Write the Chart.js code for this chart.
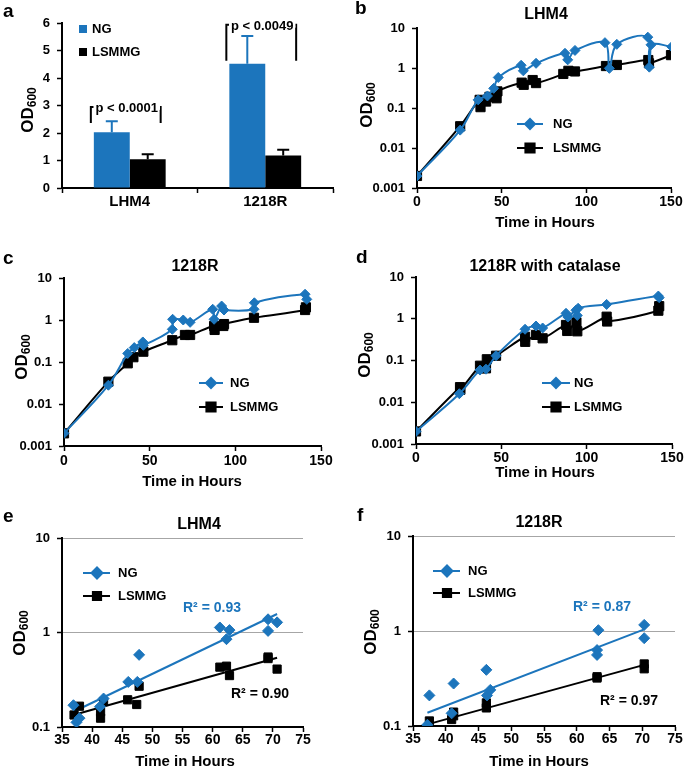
<!DOCTYPE html>
<html>
<head>
<meta charset="utf-8">
<script src="https://cdn.jsdelivr.net/npm/chart.js@4.4.1/dist/chart.umd.min.js"></script>
<style>
  html, body { margin: 0; padding: 0; background: #fff; }
  body { width: 685px; height: 773px; position: relative; overflow: hidden; }
</style>
</head>
<body>
<script>
// ================= DATA =================
// Panel a (bar chart)
const aCategories = ['LHM4', '1218R'];
const aNG = [2.03, 4.52];
const aLS = [1.05, 1.18];
const aErrNG = [0.40, 1.01];
const aErrLS = [0.18, 0.21];
const aYTicks = [0, 1, 2, 3, 4, 5, 6];
const aYTickLabels = ['0', '1', '2', '3', '4', '5', '6'];
const aBracketTop = [2.95, 5.94];
const aBracketLeg = [2.36, 4.63];
const aPLabels = ['p < 0.0001', 'p < 0.0049'];

// Panel b: LHM4 growth
const bTimeNG = [0, 25.5, 36.1, 41.6, 45.3, 48, 61.5, 62.8, 70.3, 87.4, 89, 93.3, 111, 113.6, 118, 136.3, 137.2, 138.2, 150.4];
const bOdNG   = [0.002, 0.028, 0.16, 0.2, 0.31, 0.58, 1.17, 0.85, 1.31, 2.33, 1.6, 2.75, 4.3, 0.98, 3.9, 5.9, 1.05, 3.8, 3.4];
const bTimeLS = [0, 25.5, 37, 37.5, 40.8, 42.8, 47, 47.5, 61.8, 63, 68.3, 70.3, 86.4, 89.4, 93.3, 111.6, 118, 136.6, 137, 150];
const bOdLS   = [0.002, 0.035, 0.16, 0.105, 0.145, 0.19, 0.175, 0.26, 0.43, 0.38, 0.5, 0.42, 0.71, 0.85, 0.82, 1.12, 1.19, 1.58, 1.31, 2.1];

// Panel c: 1218R growth
const cTimeNG = [0, 25.9, 37.2, 41, 46, 46.3, 63.2, 63.4, 69.6, 73.6, 86.8, 87.6, 92, 93.4, 110.9, 111.1, 140.7, 141.7];
const cOdNG   = [0.002, 0.028, 0.16, 0.22, 0.3, 0.25, 0.6, 1.04, 1.0, 0.88, 1.8, 1.04, 2.15, 1.73, 1.8, 2.57, 4.1, 3.1];
const cTimeLS = [0, 25.9, 37.2, 40.5, 46.3, 63.2, 70.6, 73.6, 87.6, 87.9, 93, 93.4, 110.9, 140.7, 141.2];
const cOdLS   = [0.002, 0.034, 0.093, 0.13, 0.176, 0.33, 0.44, 0.44, 0.72, 0.58, 0.72, 0.8, 1.13, 1.73, 2.0];

// Panel d: 1218R with catalase
const dTimeNG = [0, 25.4, 37.5, 41, 46.9, 63.9, 70.3, 74.2, 87.9, 89, 93.7, 94.5, 95, 111.7, 142, 142.5];
const dOdNG   = [0.002, 0.016, 0.059, 0.062, 0.13, 0.56, 0.67, 0.6, 1.35, 1.1, 1.6, 1.2, 1.78, 2.2, 3.5, 3.2];
const dTimeLS = [0, 25.8, 26, 37.5, 38, 41, 41.5, 46.9, 63.9, 64, 70.3, 74.2, 87.9, 88.6, 94, 94.5, 111.7, 112, 142, 142.5];
const dOdLS   = [0.002, 0.023, 0.02, 0.075, 0.065, 0.065, 0.107, 0.13, 0.37, 0.28, 0.41, 0.34, 0.71, 0.51, 0.82, 0.5, 1.12, 0.86, 1.56, 2.0];

// Panel e: LHM4 exponential phase
const eTimeNG = [36.9, 37.4, 37.9, 41.3, 41.9, 46, 47.5, 47.8, 61.2, 62.3, 62.8, 69.2, 69.2, 70.7];
const eOdNG   = [0.17, 0.112, 0.124, 0.164, 0.2, 0.3, 0.3, 0.58, 1.13, 0.85, 1.06, 1.38, 1.04, 1.28];
const eTimeLS = [37, 37.9, 41.4, 41.4, 41.9, 45.9, 47.4, 47.8, 61.2, 62.3, 62.8, 69.2, 69.2, 70.7];
const eOdLS   = [0.134, 0.166, 0.145, 0.124, 0.186, 0.194, 0.173, 0.27, 0.43, 0.44, 0.35, 0.55, 0.53, 0.41];
const eFitTime = [36.9, 70.7];
const eFitNG   = [0.145, 1.57];
const eFitLS   = [0.134, 0.54];
const eR2 = ['R\u00B2 = 0.93', 'R\u00B2 = 0.90'];

// Panel f: 1218R exponential phase
const fTimeNG = [37.5, 37.2, 41.2, 40.9, 46.2, 46.3, 46.8, 63.3, 63.1, 63.1, 70.3, 70.3];
const fOdNG   = [0.21, 0.103, 0.28, 0.136, 0.39, 0.21, 0.24, 1.02, 0.63, 0.56, 1.16, 0.84];
const fTimeLS = [37.5, 40.9, 41.2, 41.2, 46.2, 46.2, 63.1, 63.1, 70.3, 70.3];
const fOdLS   = [0.113, 0.117, 0.14, 0.128, 0.175, 0.155, 0.33, 0.32, 0.45, 0.40];
const fFitTime = [37.2, 70.3];
const fFitNG   = [0.138, 1.04];
const fFitLS   = [0.104, 0.44];
const fR2 = ['R\u00B2 = 0.87', 'R\u00B2 = 0.97'];

// Tick labels
const growthYTicks = [0.001, 0.01, 0.1, 1, 10];
const growthYTickLabels = ['0.001', '0.01', '0.1', '1', '10'];
const growthXTicks = [0, 50, 100, 150];
const growthXTickLabels = ['0', '50', '100', '150'];
const expYTicks = [0.1, 1, 10];
const expYTickLabels = ['0.1', '1', '10'];
const expXTicks = [35, 40, 45, 50, 55, 60, 65, 70, 75];
const expXTickLabels = ['35', '40', '45', '50', '55', '60', '65', '70', '75'];

const seriesNames = ['NG', 'LSMMG'];

// ================= STYLE / HELPERS =================
const BLUE = '#1c75bc';
const BLACK = '#000000';
const FONT = "'Liberation Sans', Arial, Helvetica, sans-serif";
Chart.defaults.font.family = FONT;
Chart.defaults.font.weight = 'bold';
Chart.defaults.color = '#000';

const pts = (xs, ys) => xs.map((x, i) => ({ x: x, y: ys[i] }));

function mkCanvas(box) {
  const c = document.createElement('canvas');
  c.width = box.w; c.height = box.h;
  c.style.cssText = `position:absolute;left:${box.x}px;top:${box.y}px;width:${box.w}px;height:${box.h}px`;
  document.body.appendChild(c);
  return c;
}

function T(ctx, s, x, y, o) {
  o = o || {};
  ctx.save();
  ctx.font = `bold ${o.size || 14}px ${FONT}`;
  ctx.fillStyle = o.color || '#000';
  ctx.textAlign = o.align || 'center';
  ctx.textBaseline = o.base || 'middle';
  ctx.fillText(s, x, y);
  ctx.restore();
}

function yTitle(ctx, x, y) {
  ctx.save();
  ctx.translate(x, y);
  ctx.rotate(-Math.PI / 2);
  ctx.fillStyle = '#000';
  ctx.textBaseline = 'middle';
  ctx.textAlign = 'left';
  ctx.font = `bold 17px ${FONT}`;
  const w1 = ctx.measureText('OD').width;
  ctx.font = `bold 12px ${FONT}`;
  const w2 = ctx.measureText('600').width;
  const x0 = -(w1 + w2) / 2;
  ctx.font = `bold 17px ${FONT}`;
  ctx.fillText('OD', x0, 0);
  ctx.font = `bold 12px ${FONT}`;
  ctx.fillText('600', x0 + w1, 5);
  ctx.restore();
}

function letter(ctx, s, x, y) {
  T(ctx, s, x, y, { size: 19, align: 'left', base: 'alphabetic' });
}

function lineLegend(ctx, chart, entries) {
  entries.forEach(e => {
    const ds = chart.data.datasets[e.ds];
    ctx.save();
    ctx.strokeStyle = ds.borderColor;
    ctx.lineWidth = 2;
    ctx.beginPath(); ctx.moveTo(e.x0, e.y); ctx.lineTo(e.x1, e.y); ctx.stroke();
    ctx.fillStyle = ds.backgroundColor;
    ctx.strokeStyle = ds.borderColor;
    Chart.helpers.drawPoint(ctx, { pointStyle: ds.pointStyle, radius: ds.pointRadius, rotation: 0, borderWidth: 1 }, e.mx, e.y);
    ctx.restore();
    T(ctx, ds.label, e.tx, e.y, { size: 13, align: 'left' });
  });
}

function overlay(box, draw) {
  return {
    id: 'overlay',
    afterDraw(chart) {
      const ctx = chart.ctx;
      ctx.save();
      ctx.translate(-box.x, -box.y);
      draw(ctx, chart);
      ctx.restore();
    }
  };
}

function yScale(type, min, max, ticks, labels, width, gridLines) {
  return {
    type: type, min: min, max: max,
    afterBuildTicks: s => { s.ticks = ticks.map(v => ({ value: v })); },
    afterFit: s => { s.width = width; },
    ticks: { callback: (v, i) => labels[i], padding: 7, color: '#000', autoSkip: false,
             font: { size: 13, weight: 'bold', family: FONT } },
    grid: { drawOnChartArea: !!gridLines, color: gridLines ? '#a6a6a6' : '#000', lineWidth: 1,
            tickColor: '#000', tickWidth: 1.5, tickLength: 5, drawTicks: true },
    border: { display: true, color: '#000', width: 2 }
  };
}

function xScale(min, max, ticks, labels, height, pad) {
  return {
    type: 'linear', min: min, max: max,
    afterBuildTicks: s => { s.ticks = ticks.map(v => ({ value: v })); },
    afterFit: s => { s.height = height; },
    ticks: { callback: (v, i) => labels[i], padding: pad, color: '#000', autoSkip: false, maxRotation: 0,
             font: { size: 14, weight: 'bold', family: FONT } },
    grid: { drawOnChartArea: false, color: '#000', tickColor: '#000', tickWidth: 1.5, tickLength: 5 },
    border: { display: true, color: '#000', width: 2 }
  };
}

function makeChart(box, area, type, data, scales, draw) {
  const canvas = mkCanvas(box);
  return new Chart(canvas, {
    type: type,
    data: data,
    options: {
      responsive: false,
      animation: false,
      events: [],
      layout: { padding: { left: 0, top: area.t - box.y, right: box.x + box.w - area.r, bottom: 0 } },
      plugins: { legend: { display: false }, tooltip: { enabled: false }, title: { display: false } },
      scales: scales
    },
    plugins: [overlay(box, draw)]
  });
}

function growthDatasets(tNG, oNG, tLS, oLS) {
  return {
    datasets: [
      { label: seriesNames[0], data: pts(tNG, oNG), showLine: true, tension: 0.35,
        borderColor: BLUE, backgroundColor: BLUE, borderWidth: 2,
        pointStyle: 'rectRot', pointRadius: 5, pointBorderWidth: 1 },
      { label: seriesNames[1], data: pts(tLS, oLS), showLine: true, tension: 0.35,
        borderColor: BLACK, backgroundColor: BLACK, borderWidth: 2,
        pointStyle: 'rect', pointRadius: 6.5, pointBorderWidth: 1 }
    ]
  };
}

function expDatasets(tNG, oNG, tLS, oLS, fitT, fitNG, fitLS) {
  return {
    datasets: [
      { label: seriesNames[0], data: pts(tNG, oNG), showLine: false,
        borderColor: BLUE, backgroundColor: BLUE,
        pointStyle: 'rectRot', pointRadius: 5.5, pointBorderWidth: 1 },
      { label: seriesNames[1], data: pts(tLS, oLS), showLine: false,
        borderColor: BLACK, backgroundColor: BLACK,
        pointStyle: 'rect', pointRadius: 5.8, pointBorderWidth: 1 },
      { label: 'fitNG', data: pts(fitT, fitNG), showLine: true, tension: 0,
        borderColor: BLUE, borderWidth: 2, pointRadius: 0 },
      { label: 'fitLS', data: pts(fitT, fitLS), showLine: true, tension: 0,
        borderColor: BLACK, borderWidth: 2, pointRadius: 0 }
    ]
  };
}

// ================= PANEL a =================
(function () {
  const box = { x: 0, y: 0, w: 340, h: 250 };
  const area = { l: 62, t: 23, r: 333, b: 188 };
  makeChart(box, area, 'bar', {
    labels: aCategories,
    datasets: [
      { label: seriesNames[0], data: aNG, backgroundColor: BLUE, borderWidth: 0, barPercentage: 1, categoryPercentage: 0.53 },
      { label: seriesNames[1], data: aLS, backgroundColor: BLACK, borderWidth: 0, barPercentage: 1, categoryPercentage: 0.53 }
    ]
  }, {
    x: {
      type: 'category', offset: true,
      afterFit: s => { s.height = box.y + box.h - area.b; },
      ticks: { padding: 0, color: '#000', font: { size: 15, weight: 'bold', family: FONT } },
      grid: { offset: true, drawOnChartArea: false, color: '#000', tickColor: '#000', tickWidth: 1.5, tickLength: 5 },
      border: { display: true, color: '#000', width: 2 }
    },
    y: yScale('linear', 0, 6, aYTicks, aYTickLabels, area.l - box.x, false)
  }, (ctx, chart) => {
    const ys = chart.scales.y;
    const errs = [aErrNG, aErrLS];
    const vals = [aNG, aLS];
    // error bars
    [0, 1].forEach(di => {
      const meta = chart.getDatasetMeta(di);
      const col = chart.data.datasets[di].backgroundColor;
      meta.data.forEach((el, j) => {
        const yt = ys.getPixelForValue(vals[di][j] + errs[di][j]);
        ctx.save();
        ctx.strokeStyle = col; ctx.lineWidth = 2;
        ctx.beginPath();
        ctx.moveTo(el.x, el.y); ctx.lineTo(el.x, yt);
        ctx.moveTo(el.x - 6, yt); ctx.lineTo(el.x + 6, yt);
        ctx.stroke();
        ctx.restore();
      });
    });
    // significance brackets
    const mN = chart.getDatasetMeta(0), mL = chart.getDatasetMeta(1);
    aCategories.forEach((c, j) => {
      const bN = mN.data[j], bL = mL.data[j];
      const xl = bN.x - bN.width / 2 - 3, xr = bL.x + bL.width / 2 - 5;
      const yt = ys.getPixelForValue(aBracketTop[j]);
      const yb = ys.getPixelForValue(aBracketLeg[j]);
      ctx.save();
      ctx.strokeStyle = '#000'; ctx.lineWidth = 2;
      ctx.beginPath(); ctx.moveTo(xl, yb); ctx.lineTo(xl, yt); ctx.lineTo(xr, yt); ctx.lineTo(xr, yb); ctx.stroke();
      ctx.font = `bold 13px ${FONT}`;
      const w = ctx.measureText(aPLabels[j]).width;
      const cx = (xl + xr) / 2 + 1;
      ctx.fillStyle = '#fff';
      ctx.fillRect(cx - w / 2 - 2, yt - 3, w + 4, 6);
      ctx.restore();
      T(ctx, aPLabels[j], cx, yt + 2, { size: 13 });
    });
    // legend
    const legY = [29, 52];
    [0, 1].forEach(di => {
      ctx.fillStyle = chart.data.datasets[di].backgroundColor;
      ctx.fillRect(79, legY[di] - 4, 8, 8);
      T(ctx, chart.data.datasets[di].label, 92, legY[di], { size: 13, align: 'left' });
    });
    letter(ctx, 'a', 3, 17);
    yTitle(ctx, 28, 110);
  });
})();

// ================= PANEL b =================
(function () {
  const box = { x: 340, y: 0, w: 345, h: 250 };
  const area = { l: 417, t: 28, r: 671, b: 188 };
  makeChart(box, area, 'scatter', growthDatasets(bTimeNG, bOdNG, bTimeLS, bOdLS), {
    x: xScale(0, 150, growthXTicks, growthXTickLabels, box.y + box.h - area.b, 1),
    y: yScale('logarithmic', 0.001, 10, growthYTicks, growthYTickLabels, area.l - box.x, false)
  }, (ctx, chart) => {
    letter(ctx, 'b', 355, 14);
    T(ctx, 'LHM4', 546, 15, { size: 16 });
    T(ctx, 'Time in Hours', 545, 223, { size: 15 });
    yTitle(ctx, 367, 105);
    lineLegend(ctx, chart, [
      { ds: 0, x0: 517, x1: 543, mx: 530, tx: 553, y: 124 },
      { ds: 1, x0: 517, x1: 543, mx: 530, tx: 553, y: 148 }
    ]);
  });
})();

// ================= PANEL c =================
(function () {
  const box = { x: 0, y: 250, w: 340, h: 260 };
  const area = { l: 64, t: 278, r: 321, b: 446 };
  makeChart(box, area, 'scatter', growthDatasets(cTimeNG, cOdNG, cTimeLS, cOdLS), {
    x: xScale(0, 150, growthXTicks, growthXTickLabels, box.y + box.h - area.b, 2),
    y: yScale('logarithmic', 0.001, 10, growthYTicks, growthYTickLabels, area.l - box.x, false)
  }, (ctx, chart) => {
    letter(ctx, 'c', 3, 264);
    T(ctx, '1218R', 195, 267, { size: 16 });
    T(ctx, 'Time in Hours', 192, 482, { size: 15 });
    yTitle(ctx, 22, 357);
    lineLegend(ctx, chart, [
      { ds: 0, x0: 199, x1: 223, mx: 211, tx: 230, y: 383 },
      { ds: 1, x0: 199, x1: 223, mx: 211, tx: 230, y: 407 }
    ]);
  });
})();

// ================= PANEL d =================
(function () {
  const box = { x: 340, y: 250, w: 345, h: 260 };
  const area = { l: 416, t: 277, r: 672, b: 444 };
  makeChart(box, area, 'scatter', growthDatasets(dTimeNG, dOdNG, dTimeLS, dOdLS), {
    x: xScale(0, 150, growthXTicks, growthXTickLabels, box.y + box.h - area.b, 1),
    y: yScale('logarithmic', 0.001, 10, growthYTicks, growthYTickLabels, area.l - box.x, false)
  }, (ctx, chart) => {
    letter(ctx, 'd', 356, 263);
    T(ctx, '1218R with catalase', 545, 267, { size: 16 });
    T(ctx, 'Time in Hours', 545, 473, { size: 15 });
    yTitle(ctx, 365, 355);
    lineLegend(ctx, chart, [
      { ds: 0, x0: 542, x1: 570, mx: 556, tx: 574, y: 383 },
      { ds: 1, x0: 542, x1: 570, mx: 556, tx: 574, y: 407 }
    ]);
  });
})();

// ================= PANEL e =================
(function () {
  const box = { x: 0, y: 500, w: 340, h: 273 };
  const area = { l: 62, t: 538, r: 303, b: 727 };
  makeChart(box, area, 'scatter', expDatasets(eTimeNG, eOdNG, eTimeLS, eOdLS, eFitTime, eFitNG, eFitLS), {
    x: xScale(35, 75, expXTicks, expXTickLabels, box.y + box.h - area.b, 0),
    y: yScale('logarithmic', 0.1, 10, expYTicks, expYTickLabels, area.l - box.x, true)
  }, (ctx, chart) => {
    letter(ctx, 'e', 3, 522);
    T(ctx, 'LHM4', 199, 525, { size: 16 });
    T(ctx, 'Time in Hours', 185, 762, { size: 15 });
    yTitle(ctx, 20, 633);
    lineLegend(ctx, chart, [
      { ds: 0, x0: 83, x1: 110, mx: 97, tx: 118, y: 573 },
      { ds: 1, x0: 83, x1: 110, mx: 97, tx: 118, y: 596 }
    ]);
    T(ctx, eR2[0], 183, 608, { size: 14, align: 'left', color: BLUE });
    T(ctx, eR2[1], 231, 694, { size: 14, align: 'left' });
  });
})();

// ================= PANEL f =================
(function () {
  const box = { x: 340, y: 500, w: 345, h: 273 };
  const area = { l: 413, t: 536, r: 675, b: 726 };
  makeChart(box, area, 'scatter', expDatasets(fTimeNG, fOdNG, fTimeLS, fOdLS, fFitTime, fFitNG, fFitLS), {
    x: xScale(35, 75, expXTicks, expXTickLabels, box.y + box.h - area.b, 0),
    y: yScale('logarithmic', 0.1, 10, expYTicks, expYTickLabels, area.l - box.x, true)
  }, (ctx, chart) => {
    letter(ctx, 'f', 357, 521);
    T(ctx, '1218R', 539, 523, { size: 16 });
    T(ctx, 'Time in Hours', 539, 762, { size: 15 });
    yTitle(ctx, 371, 632);
    lineLegend(ctx, chart, [
      { ds: 0, x0: 433, x1: 460, mx: 447, tx: 468, y: 571 },
      { ds: 1, x0: 433, x1: 460, mx: 447, tx: 468, y: 593 }
    ]);
    T(ctx, fR2[0], 573, 607, { size: 14, align: 'left', color: BLUE });
    T(ctx, fR2[1], 600, 701, { size: 14, align: 'left' });
  });
})();
</script>
</body>
</html>
